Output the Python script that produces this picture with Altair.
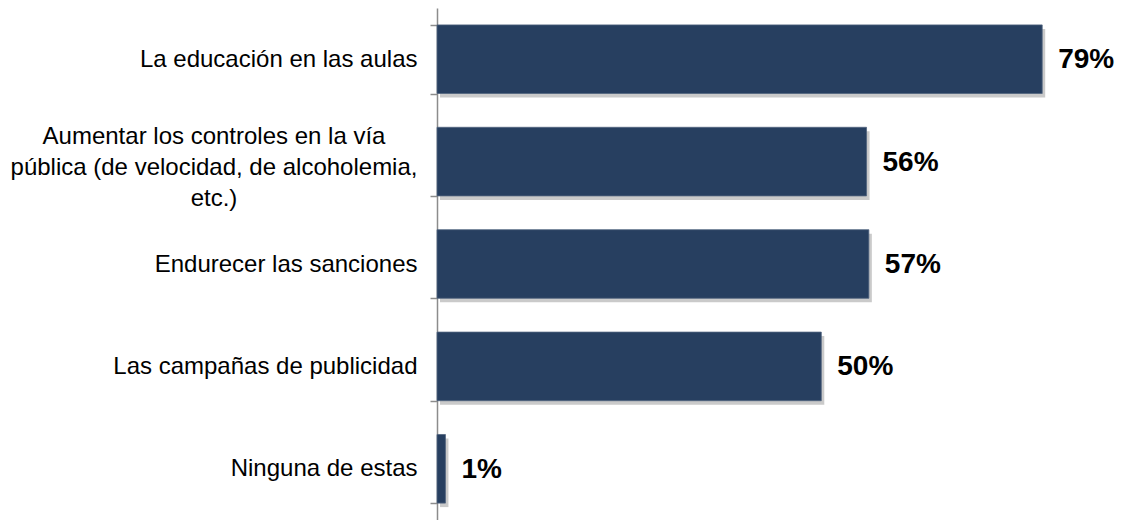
import altair as alt
import pandas as pd

categories = [
    "La educación en las aulas",
    "Aumentar los controles en la vía\npública (de velocidad, de alcoholemia,\netc.)",
    "Endurecer las sanciones",
    "Las campañas de publicidad",
    "Ninguna de estas",
]
values = [78.9, 56.0, 56.3, 50.1, 1.1]
value_labels = ["79%", "56%", "57%", "50%", "1%"]
multiline = [False, True, False, False, False]

df = pd.DataFrame({"cat": categories, "val": values, "lab": value_labels, "multi": multiline})

FONT = "Liberation Sans"

y_axis = alt.Axis(
    title=None,
    domainColor="#8c8c8c",
    domainWidth=1.5,
    tickColor="#8c8c8c",
    tickWidth=1.5,
    tickSize=7,
    tickBand="extent",
    labelFont=FONT,
    labelFontSize=24,
    labelColor="#000000",
    labelLimit=600,
    labelPadding=13,
    labelExpr="indexof(datum.label, '\\n') >= 0 ? '' : datum.label",
)

y = alt.Y("cat:N", sort=categories, axis=y_axis,
          scale=alt.Scale(paddingInner=0.33, paddingOuter=0.165))
x = alt.X("val:Q", scale=alt.Scale(domain=[0, 88]), axis=None)

base = alt.Chart(df)

shadow = base.mark_bar(color="#7a7a7a", opacity=0.4, xOffset=3, yOffset=4).encode(x=x, y=y)
bars = base.mark_bar(color="#273f60", stroke="#52657f", strokeWidth=0.8).encode(x=x, y=y)
texts = base.mark_text(align="left", baseline="middle", dx=16, dy=1, font=FONT,
                       fontSize=28, fontWeight="bold", color="#000000").encode(
    x=x, y=y, text="lab:N")
multi_label = base.transform_filter("datum.multi").mark_text(
    align="center", baseline="middle", font=FONT, fontSize=24, color="#000000",
    lineBreak="\n", lineHeight=31, dy=-25).encode(
    x=alt.value(-223), y=alt.Y("cat:N", sort=categories), text="cat:N")

chart = alt.layer(shadow, bars, texts, multi_label).properties(
    width=675,
    height=512,
    autosize=alt.AutoSizeParams(type="none"),
    padding={"left": 429, "top": 0, "right": 5, "bottom": 0},
).configure_view(stroke=None)

chart.save("out.html", embed_options={"renderer": "svg", "actions": False})
